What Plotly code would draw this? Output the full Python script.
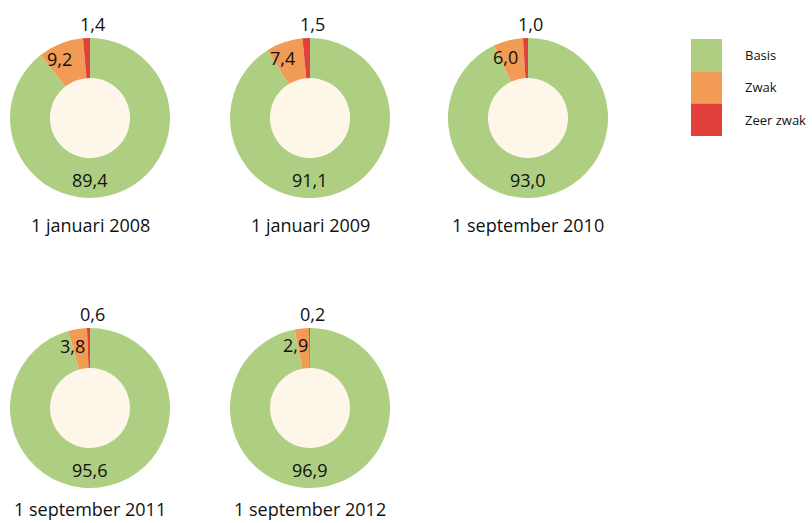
import math
import plotly.graph_objects as go

W, H = 812, 523

categories = ["Basis", "Zwak", "Zeer zwak"]
dates = ["1 januari 2008", "1 januari 2009", "1 september 2010",
         "1 september 2011", "1 september 2012"]
basis = [89.4, 91.1, 93.0, 95.6, 96.9]
zwak = [9.2, 7.4, 6.0, 3.8, 2.9]
zeer_zwak = [1.4, 1.5, 1.0, 0.6, 0.2]

colors = ["#AECE81", "#F29B55", "#E2403A"]
hole_color = "#FFF6EA"
FONT = "Open Sans"

# layout (pixel centres of the donuts)
centers = [(90, 118), (310, 118), (528, 118), (90, 408), (310, 408)]
title_offsets = [107, 107, 107, 101, 101]
R = 80
HOLE = 0.5


def fmt(v):
    return f"{v:.1f}".replace(".", ",")


def px(x):
    return x / W


def py(y):
    return 1 - y / H


fig = go.Figure()
annotations = []
shapes = []

for i, (cx, cy) in enumerate(centers):
    vals = [basis[i], zwak[i], zeer_zwak[i]]
    fig.add_trace(go.Pie(
        labels=categories, values=vals, sort=False, direction="clockwise",
        rotation=0, hole=HOLE, textinfo="none", hoverinfo="label+value",
        marker=dict(colors=colors, line=dict(width=0)),
        domain=dict(x=[px(cx - R), px(cx + R)], y=[py(cy + R), py(cy - R)]),
        showlegend=False,
    ))
    # cream centre
    r_in = R * HOLE
    shapes.append(dict(type="circle", xref="paper", yref="paper",
                       x0=px(cx - r_in), x1=px(cx + r_in),
                       y0=py(cy + r_in), y1=py(cy - r_in),
                       fillcolor=hole_color, line=dict(width=0), layer="below"))
    total = sum(vals)
    rm = R * (1 + HOLE) / 2
    # big value at bottom of ring
    annotations.append(dict(x=px(cx), y=py(cy + rm + 2), xref="paper", yref="paper",
                            text=fmt(basis[i]), showarrow=False,
                            font=dict(size=18, color="#111", family=FONT),
                            xanchor="center", yanchor="middle"))
    # zwak label at slice mid-angle (left of top)
    ang = (zeer_zwak[i] + zwak[i] / 2) / total * 2 * math.pi
    ox = cx - rm * math.sin(ang) - 8
    oy = cy - rm * math.cos(ang) - 3
    annotations.append(dict(x=px(ox), y=py(oy), xref="paper", yref="paper",
                            text=fmt(zwak[i]), showarrow=False,
                            font=dict(size=18, color="#111", family=FONT),
                            xanchor="center", yanchor="middle"))
    # zeer zwak label above donut
    annotations.append(dict(x=px(cx + 2), y=py(cy - R - 14), xref="paper", yref="paper",
                            text=fmt(zeer_zwak[i]), showarrow=False,
                            font=dict(size=18, color="#111", family=FONT),
                            xanchor="center", yanchor="middle"))
    # date title
    annotations.append(dict(x=px(cx), y=py(cy + title_offsets[i]), xref="paper", yref="paper",
                            text=dates[i], showarrow=False,
                            font=dict(size=18, color="#111", family=FONT),
                            xanchor="center", yanchor="middle"))

# legend
lx0, lx1, ly0, lh = 691, 722, 39, 32.3
for k, cat in enumerate(categories):
    y0 = ly0 + k * lh
    shapes.append(dict(type="rect", xref="paper", yref="paper",
                       x0=px(lx0), x1=px(lx1), y0=py(y0 + lh), y1=py(y0),
                       fillcolor=colors[k], line=dict(width=0)))
    annotations.append(dict(x=px(743), y=py(y0 + lh / 2), xref="paper", yref="paper",
                            text=cat, showarrow=False,
                            font=dict(size=13, color="#111", family=FONT),
                            xanchor="left", yanchor="middle"))

fig.update_layout(
    width=W, height=H,
    margin=dict(l=0, r=0, t=0, b=0),
    paper_bgcolor="white", plot_bgcolor="white",
    annotations=annotations, shapes=shapes,
    showlegend=False,
)

fig.write_html("out.html", config={"displayModeBar": False},
               post_script="document.body.style.margin='0';document.body.style.overflow='hidden';")
